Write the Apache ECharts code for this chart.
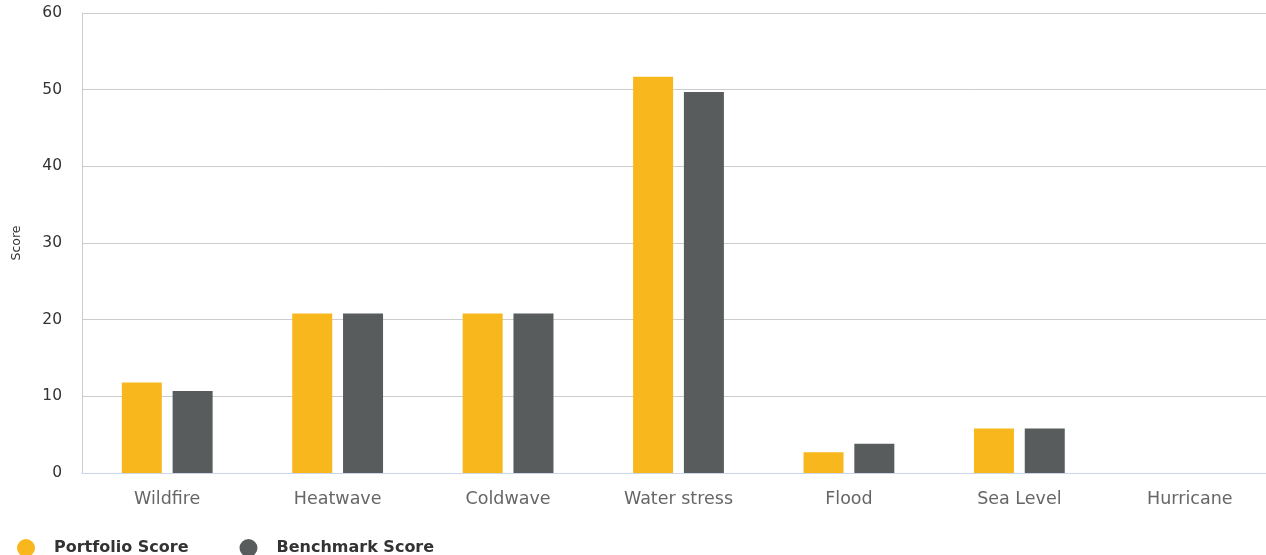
<!DOCTYPE html>
<html><head><meta charset="utf-8">
<script src="https://cdn.jsdelivr.net/npm/echarts@6/dist/echarts.min.js"></script>
<style>html,body{margin:0;padding:0;background:#fff}#c{width:1266px;height:555px}</style>
</head><body><div id="c"></div>
<script>
const categories = ['Wildfire','Heatwave','Coldwave','Water stress','Flood','Sea Level','Hurricane'];
const portfolioScore = [11.8, 20.8, 20.8, 51.7, 2.7, 5.8, 0];
const benchmarkScore = [10.7, 20.8, 20.8, 49.7, 3.8, 5.8, 0];
const yTicks = [0, 10, 20, 30, 40, 50, 60];

const chart = echarts.init(document.getElementById('c'), null, {renderer:'canvas'});
chart.setOption({
  animation: false,
  textStyle: {fontFamily: 'DejaVu Sans, sans-serif'},
  grid: {left: 82, right: -9, top: 13, bottom: 82, containLabel: false, outerBoundsMode: 'none'},
  legend: {
    left: 12, top: 534, icon: 'circle', itemWidth: 18, itemHeight: 18, itemGap: 51,
    textStyle: {fontSize: 16, fontWeight: 'bold', color: '#333', padding: [0,0,0,14], fontFamily: 'DejaVu Sans'},
    data: ['Portfolio Score', 'Benchmark Score']
  },
  xAxis: {
    type: 'category', data: categories,
    axisLine: {lineStyle: {color: '#ccd6eb', width: 1}},
    axisTick: {show: false},
    axisLabel: {color: '#666', fontSize: 17.5, margin: 17}
  },
  yAxis: {
    type: 'value', min: yTicks[0], max: yTicks[yTicks.length-1], interval: 10,
    name: 'Score', nameLocation: 'middle', nameGap: 59, nameRotate: 90,
    nameTextStyle: {color: '#333', fontSize: 12.5},
    axisLine: {show: true, lineStyle: {color: '#ccc', width: 1}},
    splitLine: {lineStyle: {color: '#ccc', width: 1}},
    axisLabel: {color: '#333', fontSize: 15.5, margin: 20}
  },
  series: [
    {name: 'Portfolio Score', type: 'bar', data: portfolioScore, barWidth: 40, barGap: '27%',
     itemStyle: {color: '#f8b71c'}},
    {name: 'Benchmark Score', type: 'bar', data: benchmarkScore, barWidth: 40,
     itemStyle: {color: '#585c5c'}}
  ]
});
</script></body></html>
